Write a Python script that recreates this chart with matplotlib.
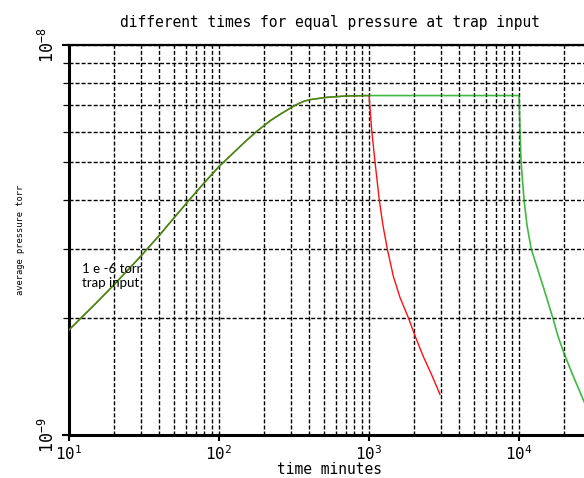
import matplotlib
matplotlib.use("Agg")
import matplotlib.pyplot as plt
from matplotlib.ticker import FixedLocator, NullFormatter

# pressure build-up common to both runs (time in minutes, pressure in torr)
rise_t = [10, 15, 20, 30, 40, 50, 66, 83, 100, 130, 150, 178, 220, 260, 321, 360,
          400, 521, 700, 1000]
rise_p = [1.86e-9, 2.17e-9, 2.43e-9, 2.87e-9, 3.25e-9, 3.60e-9, 4.08e-9, 4.51e-9,
          4.88e-9, 5.37e-9, 5.66e-9, 6.00e-9, 6.40e-9, 6.67e-9, 7.00e-9,
          7.15e-9, 7.24e-9, 7.34e-9, 7.40e-9, 7.42e-9]

# run stopped after 1000 minutes
red_decay_t = [1042, 1096, 1170, 1238, 1324, 1453, 1610, 1828, 2056, 2300, 2630, 2973]
red_decay_p = [6.05e-9, 5.02e-9, 4.01e-9, 3.45e-9, 3.00e-9, 2.55e-9, 2.25e-9, 2.00e-9,
               1.77e-9, 1.59e-9, 1.42e-9, 1.27e-9]

# run stopped after 10000 minutes
green_plateau_t = [10000]
green_plateau_p = [7.42e-9]
green_decay_t = [10155, 10312, 10800, 11300, 12060, 14500, 16780, 18200, 19950, 22900,
                 26840, 30000]
green_decay_p = [6.05e-9, 5.02e-9, 4.01e-9, 3.45e-9, 3.00e-9, 2.40e-9, 2.00e-9, 1.79e-9,
                 1.62e-9, 1.42e-9, 1.23e-9, 1.11e-9]

x_major = [10, 100, 1000, 10000]
x_labels = [r"$\mathregular{10^{1}}$", r"$\mathregular{10^{2}}$",
            r"$\mathregular{10^{3}}$", r"$\mathregular{10^{4}}$"]
y_major = [1e-9, 1e-8]
y_labels = [r"$\mathregular{10^{-9}}$", r"$\mathregular{10^{-8}}$"]

plt.rcParams["font.family"] = ["DejaVu Sans Mono"]

W, H = 584, 478
fig = plt.figure(figsize=(W / 100, H / 100), dpi=100)
ax = fig.add_axes([69 / W, 43 / H, 521.6 / W, 390 / H])
ax.set_xscale("log")
ax.set_yscale("log")
ax.set_xlim(10, 30000)
ax.set_ylim(1e-9, 1e-8)

red_t = rise_t + red_decay_t
red_p = rise_p + red_decay_p
green_t = rise_t + green_plateau_t + green_decay_t
green_p = rise_p + green_plateau_p + green_decay_p

ax.plot(red_t, red_p, color="#ff1010", lw=1.0, zorder=3)
ax.plot(green_t, green_p, color="#10a810", lw=1.2, alpha=0.8, zorder=4,
        solid_joinstyle="round")

# ticks and dashed grid
x_minor = [m * d for d in (10, 100, 1000, 10000) for m in range(2, 10) if m * d < 30000]
y_minor = [m * 1e-9 for m in range(2, 10)]
ax.xaxis.set_major_locator(FixedLocator(x_major))
ax.xaxis.set_minor_locator(FixedLocator(x_minor))
ax.yaxis.set_major_locator(FixedLocator(y_major))
ax.yaxis.set_minor_locator(FixedLocator(y_minor))
ax.xaxis.set_minor_formatter(NullFormatter())
ax.yaxis.set_minor_formatter(NullFormatter())
ax.set_xticklabels(x_labels, fontsize=11.5)
ax.set_yticklabels(y_labels, fontsize=12, rotation=90, va="center")

grid_kw = dict(color="black", linestyle=(0, (2.9, 1.45)), linewidth=1.0)
ax.grid(True, which="both", **grid_kw)
ax.set_axisbelow(True)

ax.tick_params(axis="x", which="major", direction="out", length=4, width=1.5, pad=2.5)
ax.tick_params(axis="x", which="minor", length=0)
ax.tick_params(axis="y", which="major", direction="out", length=5, width=1.5, pad=3)
ax.tick_params(axis="y", which="minor", direction="out", length=4, width=0.9)

for side in ("left", "bottom"):
    ax.spines[side].set_linewidth(2.2)
ax.spines["top"].set_linewidth(1.6)
ax.spines["right"].set_linewidth(1.6)

# axis label sits just under the tick labels, on the figure's lower edge
fig.text(ax.get_position().x0 + ax.get_position().width / 2, 3.5 / H, "time minutes",
         fontsize=10.5, ha="center", va="baseline")
ax.set_ylabel("average pressure torr", fontsize=6.3, labelpad=9)
ax.set_title("different times for equal pressure at trap input", fontsize=10.5, pad=13)

ax.text(0.025, 0.44, "1 e -6 torr\ntrap input", transform=ax.transAxes,
        family=["Lato", "DejaVu Sans"], fontsize=9.5, va="top", ha="left",
        linespacing=1.2, zorder=5)

fig.savefig("out.png", dpi=100)
